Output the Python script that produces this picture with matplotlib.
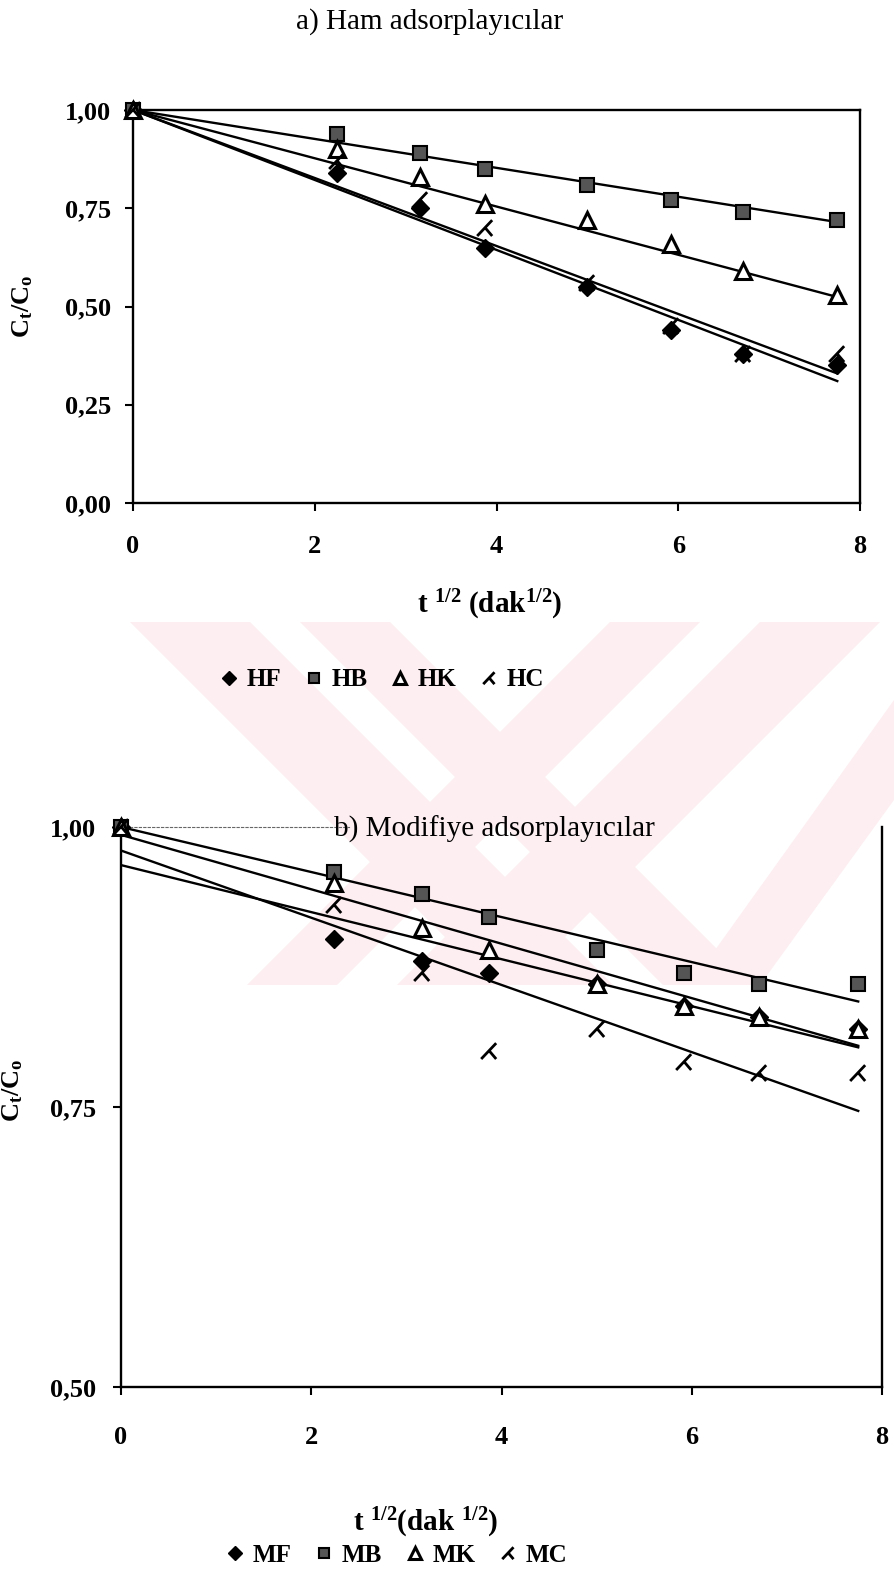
import numpy as np
import matplotlib
matplotlib.use("Agg")
import matplotlib.pyplot as plt
from matplotlib.path import Path
from matplotlib.patches import Polygon
from matplotlib.ticker import FuncFormatter

plt.rcParams['font.family'] = ['Liberation Serif', 'DejaVu Serif']
plt.rcParams['mathtext.fontset'] = 'custom'
plt.rcParams['mathtext.rm'] = 'Liberation Serif'
plt.rcParams['mathtext.it'] = 'Liberation Serif:italic'
plt.rcParams['mathtext.bf'] = 'Liberation Serif:bold'

# t^1/2 (dak^1/2) values
t_kok = [0, 2.24, 3.16, 3.87, 5.00, 5.92, 6.71, 7.75]

# a) Ham adsorplayicilar
ham_etiket = ["HF", "HB", "HK", "HC"]
HF = [1.00, 0.84, 0.75, 0.65, 0.55, 0.44, 0.38, 0.35]
HB = [1.00, 0.94, 0.89, 0.85, 0.81, 0.77, 0.74, 0.72]
HK = [1.00, 0.90, 0.83, 0.76, 0.72, 0.66, 0.59, 0.53]
HC = [1.00, 0.87, 0.77, 0.70, 0.56, 0.45, 0.38, 0.38]
ham_kesim = [1.00, 1.00, 1.00, 1.00]
ham_egim = [0.089, 0.0368, 0.0614, 0.0865]

# b) Modifiye adsorplayicilar
mod_etiket = ["MF", "MB", "MK", "MC"]
MF = [1.00, 0.90, 0.88, 0.87, 0.86, 0.84, 0.83, 0.82]
MB = [1.00, 0.96, 0.94, 0.92, 0.89, 0.87, 0.86, 0.86]
MK = [1.00, 0.95, 0.91, 0.89, 0.86, 0.84, 0.83, 0.82]
MC = [1.00, 0.93, 0.87, 0.80, 0.82, 0.79, 0.78, 0.78]
mod_kesim = [0.966, 1.00, 0.993, 0.979]
mod_egim = [0.021, 0.0201, 0.0243, 0.030]

W, H = 894, 1569
fig = plt.figure(figsize=(W / 100, H / 100), dpi=100)

# soluk pembe filigran (tarama), grafiklerin arkasinda
def px(pts):
    return [(x / W, 1 - y / H) for x, y in pts]

pembe = '#fdeef1'
bantlar = [
    [(130, 622), (250, 622), (613, 985), (493, 985)],
    [(300, 622), (390, 622), (753, 985), (663, 985)],
    [(880, 622), (760, 622), (397, 985), (517, 985)],
    [(700, 622), (610, 622), (247, 985), (337, 985)],
    [(894, 700), (894, 800), (760, 985), (690, 985)],
]
for b in bantlar:
    fig.patches.append(Polygon(px(b), closed=True, transform=fig.transFigure,
                               facecolor=pembe, edgecolor='none', zorder=-5))

# HC / MC isareti
isaret_c = Path([(0.8, 1.0), (-1.0, -0.9), (-0.05, 0.1), (0.8, -0.9)],
                [Path.MOVETO, Path.LINETO, Path.MOVETO, Path.LINETO])

stiller = [
    dict(marker='D', ms=9, mfc='black', mec='black'),
    dict(marker='s', ms=10, mfc='#555555', mec='black', mew=1.5),
    dict(marker='^', ms=11, mfc='white', mec='black', mew=2.2),
    dict(marker=isaret_c, ms=12, mfc='none', mec='black', mew=2),
]

virgul = FuncFormatter(lambda v, p: ("%.2f" % v).replace('.', ','))


def ciz(ax, seriler, etiketler, kesim, egim):
    ax.set_facecolor('none')
    for y, et, st, a, b in zip(seriler, etiketler, stiller, kesim, egim):
        ax.plot(t_kok, y, linestyle='none', label=et, clip_on=False, zorder=3, **st)
        xx = np.array([t_kok[0], t_kok[-1]])
        ax.plot(xx, a - b * xx, color='black', lw=1.7, zorder=2)
    ax.set_xlim(0, 8)
    ax.set_xticks([0, 2, 4, 6, 8])
    ax.yaxis.set_major_formatter(virgul)
    for s in ax.spines.values():
        s.set_linewidth(1.7)
    ax.tick_params(direction='out', length=6, width=1.5, labelsize=19)
    for lab in ax.get_xticklabels() + ax.get_yticklabels():
        lab.set_fontweight('bold')


# ---- ust grafik ----
ax1 = fig.add_axes([133 / W, 1 - 503 / H, 727 / W, 393 / H])
ciz(ax1, [HF, HB, HK, HC], ham_etiket, ham_kesim, ham_egim)
ax1.set_ylim(0, 1)
ax1.set_yticks([0, 0.25, 0.5, 0.75, 1.0])
ax1.tick_params(axis='x', pad=17)
ax1.tick_params(axis='y', pad=10)
ax1.set_ylabel(r'C$_\mathregular{t}$/C$_\mathregular{o}$', fontsize=19, fontweight='bold')
ax1.yaxis.set_label_coords(-0.135, 0.5)
ax1.set_xlabel(r't $^\mathregular{1/2}$ (dak$^\mathregular{1/2}$)', fontsize=21, fontweight='bold')
ax1.xaxis.set_label_coords(0.49, -0.215)
ax1.legend(loc='center', bbox_to_anchor=(0.34, -0.45), ncol=4, frameon=False,
           prop={'size': 18, 'weight': 'bold'}, markerscale=0.75,
           handletextpad=0.2, columnspacing=0.8, handlelength=1.0)
fig.text(430 / W, 1 - 22 / H, 'a) Ham adsorplayıcılar', ha='center', va='center', fontsize=21)

# ---- alt grafik ----
ax2 = fig.add_axes([121 / W, 1 - 1387 / H, 761 / W, 560 / H])
ciz(ax2, [MF, MB, MK, MC], mod_etiket, mod_kesim, mod_egim)
ax2.set_ylim(0.5, 1.0)
ax2.set_yticks([0.5, 0.75, 1.0])
ax2.spines['top'].set_bounds(0, 2.4)
ax2.spines['top'].set_linestyle((0, (2, 2)))
ax2.spines['top'].set_linewidth(0.8)
ax2.spines['top'].set_color('#666666')
ax2.tick_params(axis='x', pad=22)
ax2.tick_params(axis='y', pad=12)
ax2.set_ylabel(r'C$_\mathregular{t}$/C$_\mathregular{o}$', fontsize=19, fontweight='bold')
ax2.yaxis.set_label_coords(-0.126, 0.53)
ax2.set_xlabel(r't $^\mathregular{1/2}$(dak $^\mathregular{1/2}$)', fontsize=21, fontweight='bold')
ax2.xaxis.set_label_coords(0.40, -0.213)
ax2.legend(loc='center', bbox_to_anchor=(0.36, -0.30), ncol=4, frameon=False,
           prop={'size': 18, 'weight': 'bold'}, markerscale=0.75,
           handletextpad=0.2, columnspacing=0.8, handlelength=1.0)
ax2.text(0.491, 0.995, 'b) Modifiye adsorplayıcılar', transform=ax2.transAxes,
         ha='center', va='center', fontsize=21)

fig.savefig('out.png', dpi=100)
